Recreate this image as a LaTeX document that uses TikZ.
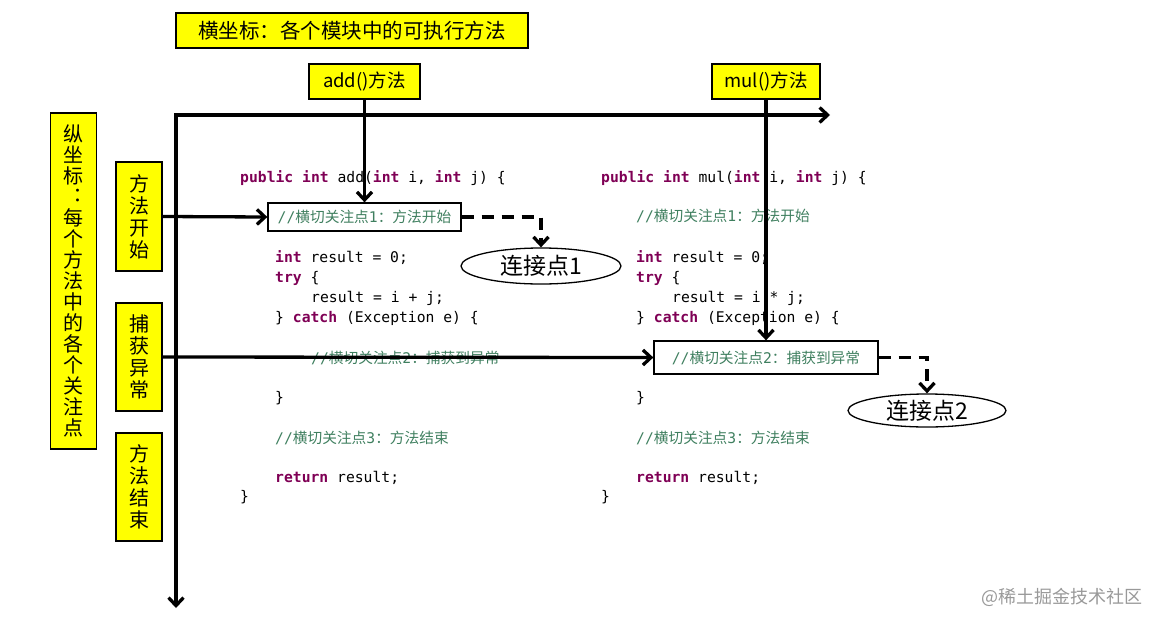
\documentclass[tikz,border=0pt]{standalone}
\usepackage{fontspec}
\usepackage{tikz}
\usetikzlibrary{arrows.meta,shapes.geometric}
\newfontfamily\cjk{Noto Sans CJK SC}
\newfontfamily\codefont{DejaVu Sans Mono}
\definecolor{kwcol}{HTML}{7F0055}
\definecolor{cmtcol}{HTML}{3F7F5F}
\definecolor{hl}{HTML}{FFFF00}
\newcommand{\kw}[1]{\textcolor{kwcol}{\bfseries #1}}
\newcommand{\cmt}[2]{\textcolor{cmtcol}{//\cjk 横切关注点\codefont#1\cjk ：#2}}
\begin{document}
\begin{tikzpicture}[x=1pt,y=-1pt,ybox/.style={draw,line width=1.3pt,fill=hl,inner sep=0pt},hbox/.style={ybox,minimum height=35,font=\cjk\fontsize{18.5}{20}\selectfont},vbox/.style={ybox,minimum width=46,align=center,font=\cjk\fontsize{20}{22}\selectfont},link/.style={line width=3.3pt,-{Straight Barb[length=8pt,width=15pt]}},jlink/.style={link,dash pattern=on 12pt off 8pt},code/.style={anchor=west,inner sep=0pt,font=\codefont\fontsize{14.7}{16}\selectfont},cbox/.style={draw,line width=1.3pt,fill=white,inner sep=0pt,font=\codefont\fontsize{14.7}{16}\selectfont},jpoint/.style={ellipse,draw,line width=1.3pt,fill=white,inner sep=0pt,font=\cjk\fontsize{23}{25}\selectfont}]
\useasboundingbox (0,0) rectangle (1162,627);
\node[hbox,minimum width=352,font=\cjk\fontsize{20.5}{22}\selectfont] (title) at (352,30.5) {横坐标：各个模块中的可执行方法};
\node[hbox,minimum width=111] (addm) at (364.5,81.5) {add()方法}; \node[hbox,minimum width=108] (mulm) at (766,81.5) {mul()方法};
\node[vbox,minimum height=336,font=\cjk\fontsize{20}{21}\selectfont] (yaxis) at (73.5,281) {纵\\坐\\标\\︓\\每\\个\\方\\法\\中\\的\\各\\个\\关\\注\\点};
\node[vbox,minimum height=109] (mstart) at (139,216.5) {方\\法\\开\\始}; \node[vbox,minimum height=108] (mcatch) at (139,357) {捕\\获\\异\\常}; \node[vbox,minimum height=108] (mend) at (139,487) {方\\法\\结\\束};
\coordinate (o) at (176,115); \coordinate (xend) at (830,115); \coordinate (yend) at (176,608);
\draw[line width=3.3pt,{Straight Barb[length=8pt,width=15pt]}-{Straight Barb[length=8pt,width=15pt]}] (xend) -- (o) -- (yend);
\foreach \x/\y/\txt [count=\n] in {240/178/{\kw{public} \kw{int} add(\kw{int} i, \kw{int} j) \{},275/258/{\kw{int} result = 0;},275/278/{\kw{try} \{},311/298/{result = i + j;},275/318/{\} \kw{catch} (Exception e) \{},311/358/{\cmt{2}{捕获到异常}},275/398/{\}},275/438/{\cmt{3}{方法结束}},275/478/{\kw{return} result;},240/497/{\}}} {\node[code] (add\n) at (\x,\y) {\txt};}
\foreach \x/\y/\txt [count=\n] in {601/178/{\kw{public} \kw{int} mul(\kw{int} i, \kw{int} j) \{},636/216/{\cmt{1}{方法开始}},636/258/{\kw{int} result = 0;},636/278/{\kw{try} \{},672/298/{result = i * j;},636/318/{\} \kw{catch} (Exception e) \{},636/398/{\}},636/438/{\cmt{3}{方法结束}},636/478/{\kw{return} result;},601/497/{\}}} {\node[code] (mul\n) at (\x,\y) {\txt};}
\node[cbox,minimum width=193,minimum height=28] (cp1) at (364.5,217) {\cmt{1}{方法开始}}; \node[cbox,minimum width=224,minimum height=33] (cp2) at (766,357.5) {\cmt{2}{捕获到异常}};
\node[jpoint,minimum width=160,minimum height=36] (jp1) at (541,266) {连接点1}; \node[jpoint,minimum width=158,minimum height=33] (jp2) at (927,410.5) {连接点2};
\draw[link] (addm.south) -- (cp1.north); \draw[link] (mulm.south) -- (cp2.north);
\draw[link] (mstart.east) -- (cp1.west); \draw[link] (mcatch.east) -- (cp2.west);
\draw[jlink] (cp1.east) -| (jp1.north); \draw[jlink] (cp2.east) -| (jp2.north);
\node[font=\cjk\fontsize{18}{20}\selectfont,text=black!40] (mark) at (1062,597) {@稀土掘金技术社区};
\end{tikzpicture}
\end{document}
